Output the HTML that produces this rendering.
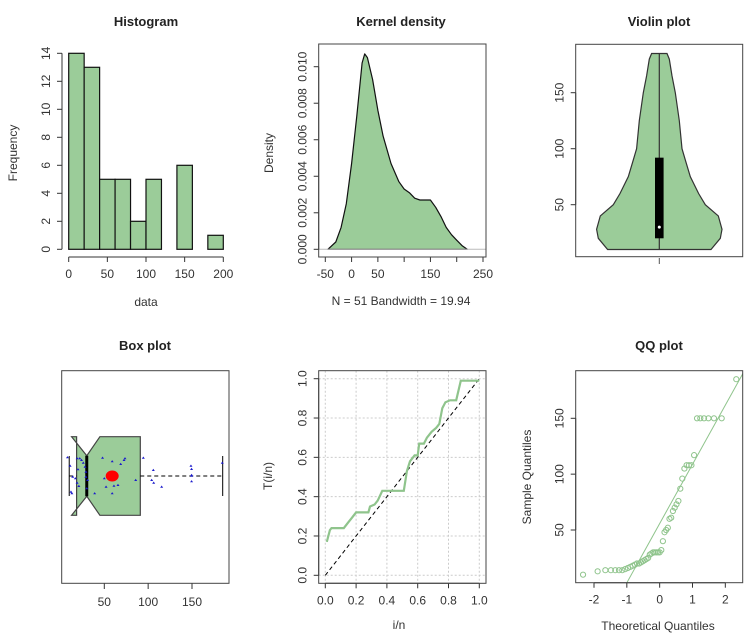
<!DOCTYPE html>
<html><head><meta charset="utf-8"><style>
html,body{margin:0;padding:0;background:#fff;width:756px;height:644px;overflow:hidden;}
svg{display:block;font-family:"Liberation Sans",Arial,sans-serif;}
</style></head><body>
<svg id="fig" width="756" height="644" viewBox="0 0 756 644" xmlns="http://www.w3.org/2000/svg"></svg>
<script>
// ---------- data ----------
const histBreaks = [0,20,40,60,80,100,120,140,160,180,200];
const histCounts = [14,13,5,5,2,5,0,6,0,1];
const histYTicks = [0,2,4,6,8,10,12,14];
const histXTicks = [0,50,100,150,200];

const densX = [-45,-30,-20,-10,0,10,20,25,30,40,50,60,75,90,100,110,120,130,140,150,160,170,180,190,200,210,220];
const densY = [0,.0004,.0012,.0025,.0047,.0073,.0102,.0107,.0105,.0093,.0076,.0062,.0047,.0037,.0033,.0031,.0028,.0027,.0027,.0027,.0023,.0018,.0012,.0008,.0005,.0002,0];
const densYTicks = [0,.002,.004,.006,.008,.010];
const densYLabels = ["0.000","0.002","0.004","0.006","0.008","0.010"];
const densXTicks = [-50,0,50,100,150,200,250];
const densXLabels = ["-50","0","50","","150","","250"];

const violinV = [10,20,28,40,50,60,75,90,100,125,150,165,180,185];
const violinHalfW = [51.7,61,62.7,59,46,39.3,31,26,22.7,20,16,12.7,10,7.7];
const violinStats = {min:10,q1:20,median:30,q3:92,max:185};
const violinYTicks = [50,100,150];

const boxStats = {min:10,q1:18.4,median:30,q3:91,max:185,notchLo:12.7,notchHi:45,mean:59};
const boxPoints = [8,11,12,13,14,17,19,20,19,21,22,24,26,28,29,29,30,31,39,48,50,52,59,59,61,65.6,68.7,72.5,73.6,85.8,94.5,105.9,104,106.3,115.4,148.8,149.5,149.5,149.5,149.5,184.5];
const boxJitter = [-18.7,-10.3,15.7,17.3,0.7,2.3,-17.7,-6.7,6.7,10,-17.7,-16,-13.3,-9.3,-4.3,0.7,12.3,4,17.3,-18.3,2.3,10.7,-14.7,17.3,9.7,9,-12,-16,-17.7,4,-18.3,-6,4,6.7,10.7,-10.3,-7,-0.3,5.3,-1,-13.3];
const boxXTicks = [50,100,150];

const ecdfX = [0.01,0.03,0.04,0.12,0.15,0.17,0.2,0.28,0.29,0.32,0.34,0.37,0.51,0.53,0.55,0.58,0.6,0.61,0.64,0.66,0.69,0.72,0.74,0.76,0.78,0.81,0.85,0.88,1.0];
const ecdfY = [0.17,0.23,0.24,0.24,0.27,0.29,0.32,0.32,0.35,0.36,0.38,0.43,0.43,0.53,0.58,0.61,0.61,0.67,0.67,0.70,0.73,0.75,0.77,0.85,0.88,0.89,0.89,0.99,0.99];
const ecdfTicks = [0,0.2,0.4,0.6,0.8,1.0];
const ecdfLabels = ["0.0","0.2","0.4","0.6","0.8","1.0"];

const qqValues = [10,13,14,14,14,14,14,15,16,17,18,19,20,20,21,22,23,24,25,28,29,30,30,30,30,30,32,40,48,50,52,60,61,67,70,73,76,87,96,105,108,108,108,117,150,150,150,150,150,150,185];
const qqXTicks = [-2,-1,0,1,2];
const qqYTicks = [50,100,150];

// ---------- helpers ----------
const NS = "http://www.w3.org/2000/svg";
const svg = document.getElementById("fig");
const GREEN = "#9bcc99";
function mk(tag, a, p){ const e=document.createElementNS(NS,tag); for(const k in a) e.setAttribute(k,a[k]); (p||svg).appendChild(e); return e; }
function txt(s, x, y, a, p){ const e=mk("text",Object.assign({x:x,y:y,"font-size":12,fill:"#333","text-anchor":"middle"},a||{}),p); e.textContent=s; return e; }
function axisLeft(p, x, ticks, sy, labels, name){
  const l = mk("line",{x1:x,x2:x,y1:sy(ticks[0]),y2:sy(ticks[ticks.length-1]),stroke:"#333"},p);
  
  
  ticks.forEach((t,i)=>{
    const tk = mk("line",{x1:x,x2:x-5,y1:sy(t),y2:sy(t),stroke:"#333"},p);
    
    
    const lb = txt(labels[i], x-12, sy(t), {transform:`rotate(-90 ${x-12} ${sy(t)})`}, p);
    
    
  });
}
function axisBottom(p, y, ticks, sx, labels, name){
  const l = mk("line",{x1:sx(ticks[0]),x2:sx(ticks[ticks.length-1]),y1:y,y2:y,stroke:"#333"},p);
  
  
  ticks.forEach((t,i)=>{
    const tk = mk("line",{x1:sx(t),x2:sx(t),y1:y,y2:y+5,stroke:"#333"},p);
    
    
    if(labels[i]!==""){
      const lb = txt(labels[i], sx(t), y+21, {}, p);
      
      
    }
  });
}
function title(s, x, y, name){
  const t = txt(s, x, y, {"font-size":13,"font-weight":"bold",fill:"#222"});
  
  
}
function frame(x0,y0,x1,y1,name){
  const r = mk("rect",{x:x0,y:y0,width:x1-x0,height:y1-y0,fill:"none",stroke:"#444"});
  
  
}

// ---------- Histogram ----------
{
  const g = mk("g",{});
  
  
  const sx = v => 68.7 + v*(223.3-68.7)/200;
  const sy = v => 249.3 - v*14;
  histCounts.forEach((c,i)=>{
    if(c<=0) return;
    const r = mk("rect",{x:sx(histBreaks[i]),y:sy(c),width:sx(histBreaks[i+1])-sx(histBreaks[i]),height:sy(0)-sy(c),fill:GREEN,stroke:"#111","stroke-width":1.2},g);
    
    
  });
  axisLeft(g, 62, histYTicks, sy, histYTicks.map(String), 'hist-y-axis');
  axisBottom(g, 257, histXTicks, sx, histXTicks.map(String), 'hist-x-axis');
  title("Histogram", 146, 26, 'hist-title');
  const xl = txt("data", 146, 306, {}, g);
  
  
  const yl = txt("Frequency", 17, 153, {transform:"rotate(-90 17 153)"}, g);
  
  
}

// ---------- Kernel density ----------
{
  const g = mk("g",{});
  
  
  const sx = v => 325.3 + (v+50)*(483-325.3)/300;
  const sy = v => 249.3 - v*18260;
  let d = `M${sx(densX[0])},${sy(0)}`;
  densX.forEach((x,i)=>{ d += ` L${sx(x).toFixed(1)},${sy(densY[i]).toFixed(1)}`; });
  d += ` L${sx(densX[densX.length-1])},${sy(0)} Z`;
  const area = mk("path",{d:d,fill:GREEN,stroke:"#111","stroke-width":1.2,"stroke-linejoin":"round"},g);
  
  
  const base = mk("line",{x1:318.7,x2:486,y1:sy(0),y2:sy(0),stroke:"#bbb"},g);
  
  
  frame(318.7,44,486,257,'density-frame');
  axisLeft(g, 318.7, densYTicks, sy, densYLabels, 'density-y-axis');
  axisBottom(g, 257, densXTicks, sx, densXLabels, 'density-x-axis');
  title("Kernel density", 401, 26, 'density-title');
  const xl = txt("N = 51   Bandwidth = 19.94", 401, 305, {"xml:space":"preserve"}, g);
  
  
  const yl = txt("Density", 273, 153, {transform:"rotate(-90 273 153)"}, g);
  
  
}

// ---------- Violin ----------
{
  const g = mk("g",{});
  
  
  const cx = 659.3;
  const sy = v => 204.7 - (v-50)*1.12;
  let d = "";
  violinV.forEach((v,i)=>{ d += (i?" L":"M")+(cx+violinHalfW[i]).toFixed(1)+","+sy(v).toFixed(1); });
  for(let i=violinV.length-1;i>=0;i--){ d += " L"+(cx-violinHalfW[i]).toFixed(1)+","+sy(violinV[i]).toFixed(1); }
  d += " Z";
  const vp = mk("path",{d:d,fill:GREEN,stroke:"#333","stroke-width":1.2},g);
  
  
  const wl = mk("line",{x1:cx,x2:cx,y1:sy(violinStats.min),y2:sy(violinStats.max),stroke:"#333","stroke-width":1.2},g);
  
  
  const bx = mk("rect",{x:cx-4.3,y:sy(violinStats.q3),width:8.6,height:sy(violinStats.q1)-sy(violinStats.q3),fill:"#000"},g);
  
  
  const md = mk("circle",{cx:cx,cy:sy(violinStats.median),r:1.5,fill:"#fff"},g);
  
  
  frame(575.7,44.3,742.7,256.7,'violin-frame');
  axisLeft(g, 575.7, violinYTicks, sy, violinYTicks.map(String), 'violin-y-axis');
  const tk = mk("line",{x1:cx,x2:cx,y1:258,y2:264,stroke:"#555"},g);
  
  
  title("Violin plot", 659, 26, 'violin-title');
}

// ---------- Box plot ----------
{
  const g = mk("g",{});
  
  
  const sx = v => 104.3 + (v-50)*0.877;
  const cy = 476, hh = 39.3, nh = 20.3, ch = 20;
  const s = boxStats;
  const pts = [[sx(s.q1),cy-hh],[sx(s.notchLo),cy-hh],[sx(s.median),cy-nh],[sx(s.notchHi),cy-hh],[sx(s.q3),cy-hh],[sx(s.q3),cy+hh],[sx(s.notchHi),cy+hh],[sx(s.median),cy+nh],[sx(s.notchLo),cy+hh],[sx(s.q1),cy+hh]];
  const bp = mk("polygon",{points:pts.map(p=>p.map(v=>v.toFixed(1)).join(",")).join(" "),fill:GREEN,stroke:"#444","stroke-width":1.2},g);
  
  
  const ml = mk("line",{x1:sx(s.median),x2:sx(s.median),y1:cy-nh,y2:cy+nh,stroke:"#000","stroke-width":3},g);
  
  
  const wl = mk("line",{x1:sx(s.min),x2:sx(s.q1),y1:cy,y2:cy,stroke:"#000","stroke-dasharray":"4,3"},g);
  
  
  const wr = mk("line",{x1:sx(s.q3),x2:sx(s.max),y1:cy,y2:cy,stroke:"#000","stroke-dasharray":"4,3"},g);
  
  
  const cl = mk("line",{x1:sx(s.min),x2:sx(s.min),y1:cy-ch,y2:cy+ch,stroke:"#000"},g);
  
  
  const cr = mk("line",{x1:sx(s.max),x2:sx(s.max),y1:cy-ch,y2:cy+ch,stroke:"#000"},g);
  
  
  boxPoints.forEach((v,i)=>{
    const x = sx(v), y = cy + boxJitter[i];
    const p = mk("polygon",{points:`${x-1.5},${y+1} ${x+1.5},${y+1} ${x},${y-1.2}`,fill:"#1a1acc"},g);
    
    
  });
  const mn = mk("ellipse",{cx:sx(s.mean),cy:cy,rx:6.5,ry:5.5,fill:"#f00"},g);
  
  
  frame(61.7,370.7,229,583.3,'boxplot-frame');
  boxXTicks.forEach(t=>{
    const tk = mk("line",{x1:sx(t),x2:sx(t),y1:583.3,y2:589,stroke:"#333"},g);
    
    
    const lb = txt(String(t), sx(t), 606, {}, g);
    
    
  });
  title("Box plot", 145, 350, 'boxplot-title');
}

// ---------- T(i/n) plot ----------
{
  const g = mk("g",{});
  
  
  const sx = v => 325.3 + v*154;
  const sy = v => 575.3 - v*196.6;
  ecdfTicks.forEach(t=>{
    const gv = mk("line",{x1:sx(t),x2:sx(t),y1:370.7,y2:583.3,stroke:"#ccc","stroke-dasharray":"2,2"},g);
    
    
    const gh = mk("line",{x1:318.7,x2:486,y1:sy(t),y2:sy(t),stroke:"#ccc","stroke-dasharray":"2,2"},g);
    
    
  });
  const diag = mk("line",{x1:sx(0),y1:sy(0),x2:sx(1),y2:sy(1),stroke:"#000","stroke-dasharray":"4,3"},g);
  
  
  const pl = mk("polyline",{points:ecdfX.map((x,i)=>sx(x).toFixed(1)+","+sy(ecdfY[i]).toFixed(1)).join(" "),fill:"none",stroke:"#8fc48c","stroke-width":2.2},g);
  
  
  frame(318.7,370.7,486,583.3,'tin-frame');
  axisLeft(g, 318.7, ecdfTicks, sy, ecdfLabels, 'tin-y-axis');
  axisBottom(g, 583.3, ecdfTicks, sx, ecdfLabels, 'tin-x-axis');
  const xl = txt("i/n", 399, 629, {}, g);
  
  
  const yl = txt("T(i/n)", 272, 476, {transform:"rotate(-90 272 476)"}, g);
  
  
}

// ---------- QQ plot ----------
{
  const g = mk("g",{});
  
  
  const sx = v => 594 + (v+2)*32.83;
  const sy = v => 530 - (v-50)*1.117;
  function qnorm(p){ // Acklam approximation
    const a=[-39.6968302866538,220.946098424521,-275.928510446969,138.357751867269,-30.6647980661472,2.50662827745924];
    const b=[-54.4760987982241,161.585836858041,-155.698979859887,66.8013118877197,-13.2806815528857];
    const c=[-0.00778489400243029,-0.322396458041136,-2.40075827716184,-2.54973253934373,4.37466414146497,2.93816398269878];
    const d=[0.00778469570904146,0.32246712907004,2.445134137143,3.75440866190742];
    if(p<0.02425){const q=Math.sqrt(-2*Math.log(p));return (((((c[0]*q+c[1])*q+c[2])*q+c[3])*q+c[4])*q+c[5])/((((d[0]*q+d[1])*q+d[2])*q+d[3])*q+1);}
    if(p>1-0.02425){const q=Math.sqrt(-2*Math.log(1-p));return -(((((c[0]*q+c[1])*q+c[2])*q+c[3])*q+c[4])*q+c[5])/((((d[0]*q+d[1])*q+d[2])*q+d[3])*q+1);}
    const q=p-0.5,r=q*q;return (((((a[0]*r+a[1])*r+a[2])*r+a[3])*r+a[4])*r+a[5])*q/(((((b[0]*r+b[1])*r+b[2])*r+b[3])*r+b[4])*r+1);
  }
  const n = qqValues.length;
  const sorted = qqValues.slice().sort((a,b)=>a-b);
  const clip = mk("clipPath",{id:"qqclip"},g);
  mk("rect",{x:575.7,y:370.7,width:167,height:212},clip);
  function quant(p){ const h=(n-1)*p, lo=Math.floor(h); return sorted[lo]+(h-lo)*(sorted[Math.min(lo+1,n-1)]-sorted[lo]); }
  const q1 = quant(0.25), q3 = quant(0.75), z = qnorm(0.75);
  const slope = (q3-q1)/(2*z), icpt = q1 + z*slope;
  const ql = mk("line",{x1:sx(-3),y1:sy(icpt-3*slope),x2:sx(3),y2:sy(icpt+3*slope),stroke:"#8fc48c","stroke-width":1,"clip-path":"url(#qqclip)"},g);
  
  
  sorted.forEach((v,i)=>{
    const t = qnorm((i+1-0.5)/n);
    const c = mk("circle",{cx:sx(t),cy:sy(v),r:2.6,fill:"none",stroke:"#8fc48c","stroke-width":1},g);
    
    
  });
  frame(575.7,370.7,742.7,582.7,'qq-frame');
  axisLeft(g, 575.7, qqYTicks, sy, qqYTicks.map(String), 'qq-y-axis');
  axisBottom(g, 582.7, qqXTicks, sx, qqXTicks.map(String), 'qq-x-axis');
  title("QQ plot", 659, 350, 'qq-title');
  const xl = txt("Theoretical Quantiles", 658, 630, {}, g);
  
  
  const yl = txt("Sample Quantiles", 531, 477, {transform:"rotate(-90 531 477)"}, g);
  
  
}
</script>
</body></html>
